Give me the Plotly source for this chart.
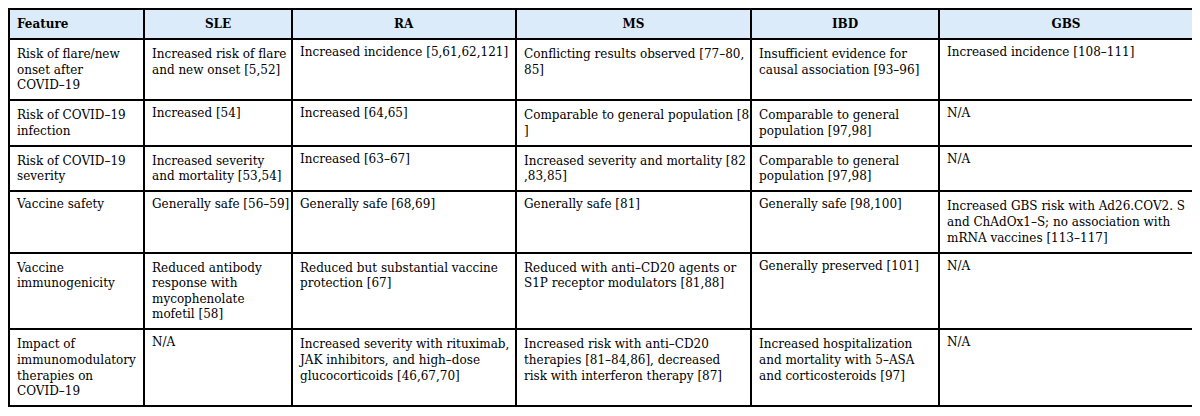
import plotly.graph_objects as go

headers = ["Feature", "SLE", "RA", "MS", "IBD", "GBS"]

feature = [
    "Risk of flare/new<br>onset after<br>COVID–19",
    "Risk of COVID–19<br>infection",
    "Risk of COVID–19<br>severity",
    "Vaccine safety",
    "Vaccine<br>immunogenicity",
    "Impact of<br>immunomodulatory<br>therapies on<br>COVID–19",
]
sle = [
    "Increased risk of flare<br>and new onset [5,52]",
    "Increased [54]",
    "Increased severity<br>and mortality [53,54]",
    "Generally safe [56–59]",
    "Reduced antibody<br>response with<br>mycophenolate<br>mofetil [58]",
    "N/A",
]
ra = [
    "Increased incidence [5,61,62,121]",
    "Increased [64,65]",
    "Increased [63–67]",
    "Generally safe [68,69]",
    "Reduced but substantial vaccine<br>protection [67]",
    "Increased severity with rituximab,<br>JAK inhibitors, and high–dose<br>glucocorticoids [46,67,70]",
]
ms = [
    "Conflicting results observed [77–80,<br>85]",
    "Comparable to general population [8<br>]",
    "Increased severity and mortality [82<br>,83,85]",
    "Generally safe [81]",
    "Reduced with anti–CD20 agents or<br>S1P receptor modulators [81,88]",
    "Increased risk with anti–CD20<br>therapies [81–84,86], decreased<br>risk with interferon therapy [87]",
]
ibd = [
    "Insufficient evidence for<br>causal association [93–96]",
    "Comparable to general<br>population [97,98]",
    "Comparable to general<br>population [97,98]",
    "Generally safe [98,100]",
    "Generally preserved [101]",
    "Increased hospitalization<br>and mortality with 5–ASA<br>and corticosteroids [97]",
]
gbs = [
    "Increased incidence [108–111]",
    "N/A",
    "N/A",
    "Increased GBS risk with Ad26.COV2. S<br>and ChAdOx1–S; no association with<br>mRNA vaccines [113–117]",
    "N/A",
    "N/A",
]

col_widths = [135, 148, 224, 235, 188, 254]

FONT = "DejaVu Serif"


def keep_lines(col):
    # lines are already broken as in the source; stop automatic re-wrapping
    return [s if "<br>" in s else s.replace(" ", "\u00a0") for s in col]


columns = [keep_lines(c) for c in [feature, sle, ra, ms, ibd, gbs]]

fig = go.Figure(
    go.Table(
        columnwidth=col_widths,
        header=dict(
            values=["<b>%s</b>" % h for h in headers],
            align=["left"] + ["center"] * 5,
            fill_color="#dcebfa",
            line=dict(color="black", width=2),
            font=dict(family=FONT, size=12, color="black"),
            height=25,
        ),
        cells=dict(
            values=columns,
            align="left",
            fill_color="white",
            line=dict(color="black", width=2),
            font=dict(family=FONT, size=12, color="black"),
            height=20,
        ),
    )
)

fig.update_layout(
    width=1200,
    height=416,
    margin=dict(l=1, r=15, t=1, b=0),
    paper_bgcolor="white",
)

fig.write_html("out.html")
